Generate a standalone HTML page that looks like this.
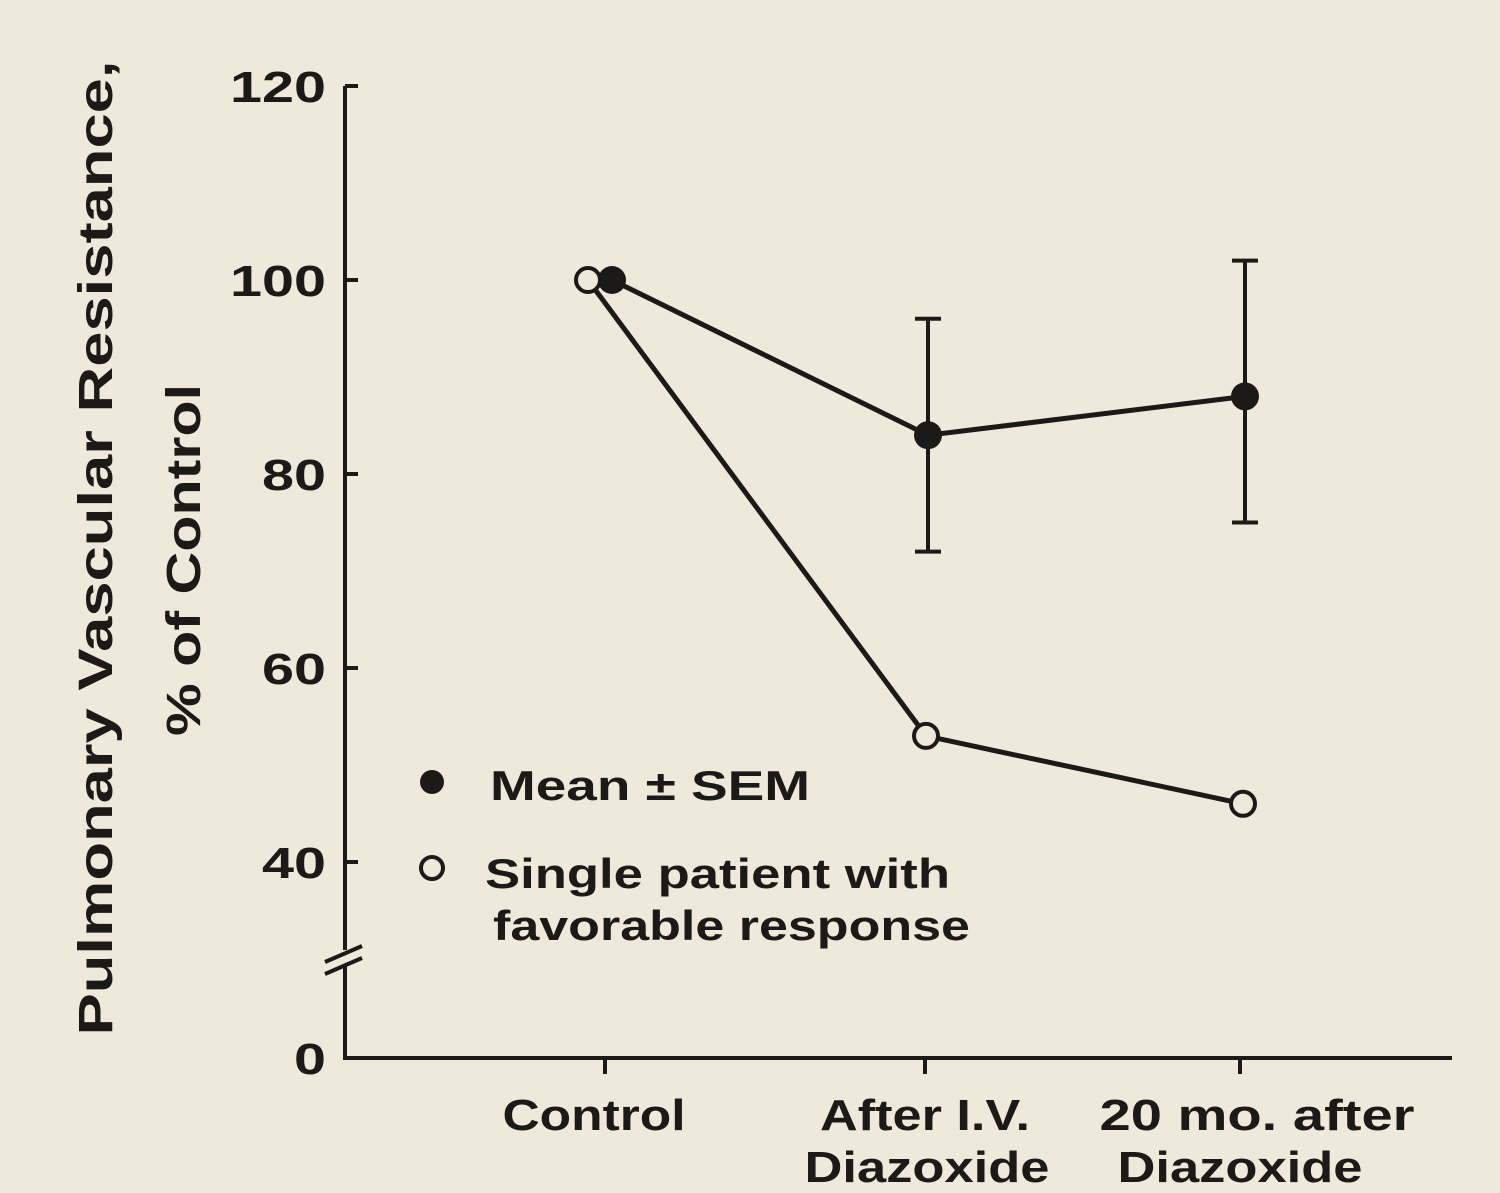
<!DOCTYPE html>
<html><head><meta charset="utf-8"><style>
html,body{margin:0;padding:0;background:#efe9dc;}
svg{display:block;}
text{font-family:"Liberation Sans",sans-serif;fill:#1c1a18;font-weight:bold;}
</style></head><body>
<svg width="1500" height="1193" viewBox="0 0 1500 1193">
<rect width="1500" height="1193" fill="#efe9dc"/>
<g id="axes"></g>
<g id="marks"></g>
<g>
<text transform="translate(112,548) rotate(-90)" x="0" y="0" text-anchor="middle" font-size="48" textLength="975" lengthAdjust="spacingAndGlyphs">Pulmonary Vascular Resistance,</text>
<text transform="translate(200,560) rotate(-90)" x="0" y="0" text-anchor="middle" font-size="48" textLength="352" lengthAdjust="spacingAndGlyphs">% of Control</text>
</g>
<g>
<circle cx="432" cy="782" r="12" fill="#1c1a18"/>
<text x="490" y="800" font-size="42" textLength="320" lengthAdjust="spacingAndGlyphs">Mean ± SEM</text>
<circle cx="432" cy="868" r="11" fill="#efe9dc" stroke="#1c1a18" stroke-width="4"/>
<text x="485" y="888" font-size="42" textLength="465" lengthAdjust="spacingAndGlyphs">Single patient with</text>
<text x="493" y="940" font-size="42" textLength="477" lengthAdjust="spacingAndGlyphs">favorable response</text>
</g>
</svg>
<script>
const categories=["Control","After I.V.|Diazoxide","20 mo. after|Diazoxide"];
const meanValues=[100,84,88];
const semHigh=[100,96,102];
const semLow=[100,72,75];
const singleValues=[100,53,46];
const yTicks=[0,40,60,80,100,120];
const ns="http://www.w3.org/2000/svg";
const catX=[605,925,1240];
const labelLen={"Control":183,"After I.V.":210,"Diazoxide":245,"20 mo. after":315};
function x(i,off){return catX[i]+(off||0);}
function y(v){if(v<30)return 1058-(v/30)*100;return 280+(100-v)*9.7;}
function mk(tag,attrs,parent){const e=document.createElementNS(ns,tag);for(const k in attrs)e.setAttribute(k,attrs[k]);parent.appendChild(e);return e;}
const axes=document.getElementById('axes'),marks=document.getElementById('marks');
let e;
e=mk('line',{x1:345,y1:y(120),x2:345,y2:1058,stroke:'#1c1a18','stroke-width':4},axes);


e=mk('line',{x1:343,y1:1058,x2:1452,y2:1058,stroke:'#1c1a18','stroke-width':4},axes);


e=mk('rect',{x:330,y:950,width:30,height:16,fill:'#efe9dc'},axes);


e=mk('path',{d:'M325,962 L362,946 M325,974 L362,958',stroke:'#1c1a18','stroke-width':4,fill:'none'},axes);


yTicks.forEach(v=>{
 e=mk('line',{x1:345,y1:y(v),x2:358,y2:y(v),stroke:'#1c1a18','stroke-width':4},axes);
 
 
 const s=String(v);
 e=mk('text',{x:326,y:y(v)+16,'text-anchor':'end','font-size':44,textLength:s.length*32,lengthAdjust:'spacingAndGlyphs'},axes);
 e.textContent=s;
 
 
});
const labelCx=[[594],[925,927],[1257,1240]];
categories.forEach((c,i)=>{
 e=mk('line',{x1:x(i),y1:1058,x2:x(i),y2:1074,stroke:'#1c1a18','stroke-width':4},axes);
 
 
 c.split('|').forEach((ln,j)=>{
  e=mk('text',{x:labelCx[i][j],y:1130+j*52,'text-anchor':'middle','font-size':44,textLength:labelLen[ln],lengthAdjust:'spacingAndGlyphs'},axes);
  e.textContent=ln;
  
  
 });
});
const mOff=[7,3,5],sOff=[-17,1,3];
e=mk('polyline',{points:singleValues.map((v,i)=>x(i,sOff[i])+','+y(v)).join(' '),fill:'none',stroke:'#1c1a18','stroke-width':5},marks);


e=mk('polyline',{points:meanValues.map((v,i)=>x(i,mOff[i])+','+y(v)).join(' '),fill:'none',stroke:'#1c1a18','stroke-width':5},marks);


meanValues.forEach((v,i)=>{
 if(semHigh[i]!==semLow[i]){
  const cx=x(i,mOff[i]);
  e=mk('path',{d:`M${cx},${y(semHigh[i])}V${y(semLow[i])}M${cx-13},${y(semHigh[i])}H${cx+13}M${cx-13},${y(semLow[i])}H${cx+13}`,stroke:'#1c1a18','stroke-width':4,fill:'none'},marks);
  
  
 }
});
singleValues.forEach((v,i)=>{
 e=mk('circle',{cx:x(i,sOff[i]),cy:y(v),r:12,fill:'#efe9dc',stroke:'#1c1a18','stroke-width':4},marks);
 
 
});
meanValues.forEach((v,i)=>{
 e=mk('circle',{cx:x(i,mOff[i]),cy:y(v),r:14,fill:'#1c1a18'},marks);
 
 
});
</script>
</body></html>
